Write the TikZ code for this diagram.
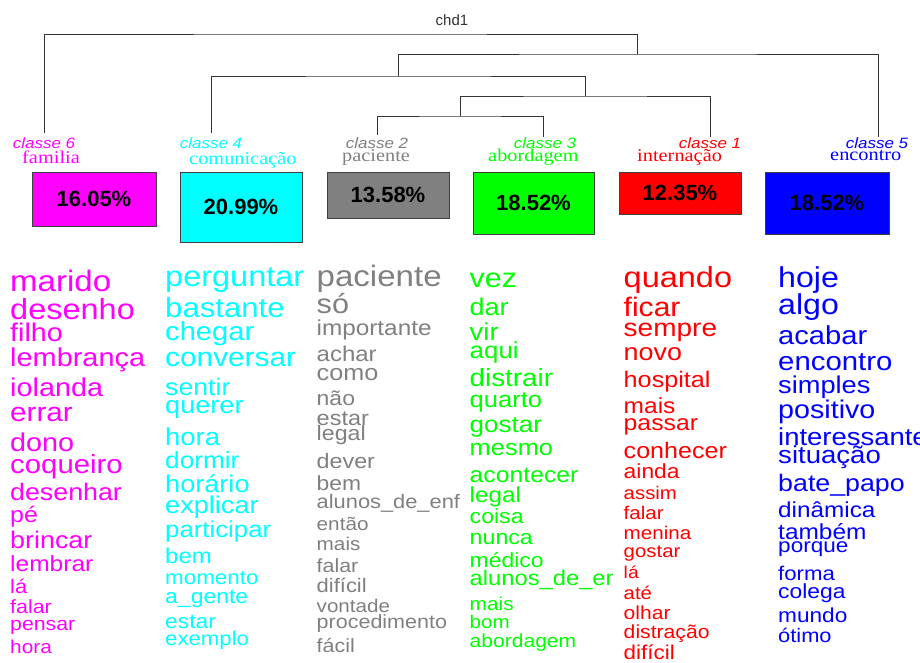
\documentclass[tikz,border=0pt]{standalone}
\usepackage{fontspec}
\setmainfont{Liberation Sans}
\newfontfamily\serifface{Liberation Serif}
\definecolor{clsA}{RGB}{255,0,0}
\definecolor{clsB}{RGB}{128,128,128}
\definecolor{clsC}{RGB}{0,255,0}
\definecolor{clsD}{RGB}{0,255,255}
\definecolor{clsE}{RGB}{0,0,255}
\definecolor{clsF}{RGB}{255,0,255}

\begin{document}
\begin{tikzpicture}[x=1pt,y=-1pt,
	tree/.style={draw=black!80,line width=0.9pt},
	cls/.style={anchor=base,font=\itshape\fontsize{15}{15}\selectfont,xscale=1.13},
	nm/.style={anchor=base west,font=\serifface\fontsize{18}{18}\selectfont,xscale=1.13},
	pct/.style={draw=black!75,line width=0.9pt,font=\bfseries\fontsize{22}{22}\selectfont},
	word/.style={anchor=base west,xscale=1.12}]
			\tikzstyle{every node}+=[inner sep=0pt]
			\useasboundingbox (0,0) rectangle (920,662);
			\node [anchor=base,text=black!80,font=\fontsize{15}{15}\selectfont] (chd) at (452,25) {chd1};
			\coordinate (l6) at (44,133);
			\coordinate (l4) at (211,133);
			\coordinate (l2) at (377,135);
			\coordinate (l3) at (543,137);
			\coordinate (l1) at (710,137);
			\coordinate (l5) at (878,137);
			\coordinate (m23) at (460,116);
			\coordinate (m231) at (585,96);
			\coordinate (m4231) at (398,76);
			\coordinate (m42315) at (637,54);
			\coordinate (top) at (340,34);
			\draw [tree] (l2) |- (m23) -| (l3);
			\draw [tree] (m23) |- (m231) -| (l1);
			\draw [tree] (l4) |- (m4231) -| (m231);
			\draw [tree] (m4231) |- (m42315) -| (l5);
			\draw [tree] (l6) |- (top) -| (m42315);
			\node [cls,text=clsF] (k6) at (44,148) {classe 6};
			\node [cls,text=clsD] (k4) at (211,148) {classe 4};
			\node [cls,text=clsB] (k2) at (377,148) {classe 2};
			\node [cls,text=clsC] (k3) at (545,148) {classe 3};
			\node [cls,text=clsA] (k1) at (710,148) {classe 1};
			\node [cls,text=clsE] (k5) at (877,148) {classe 5};
			\node [nm,text=clsF] (n6) at (22,163) {familia};
			\node [nm,text=clsD] (n4) at (189,164) {comunicação};
			\node [nm,text=clsB] (n2) at (342,161) {paciente};
			\node [nm,text=clsC] (n3) at (488,161) {abordagem};
			\node [nm,text=clsA] (n1) at (637,161) {internação};
			\node [nm,text=clsE] (n5) at (830,160) {encontro};
			\node [pct,fill=clsF,minimum width=124,minimum height=54] (b6) at (94,199) {16.05\%};
			\node [pct,fill=clsD,minimum width=122,minimum height=70] (b4) at (241,207) {20.99\%};
			\node [pct,fill=clsB,minimum width=122,minimum height=46] (b2) at (388,195) {13.58\%};
			\node [pct,fill=clsC,minimum width=121,minimum height=62] (b3) at (533.5,203) {18.52\%};
			\node [pct,fill=clsA,minimum width=122,minimum height=42] (b1) at (680,193) {12.35\%};
			\node [pct,fill=clsE,minimum width=124,minimum height=62] (b5) at (827,203) {18.52\%};
			\foreach \s/\y/\w [count=\i] in {29.5/291/marido,29/319/desenho,25.6/341/filho,25.8/366/lembrança,25.7/396/iolanda,26.5/421/errar,25.7/451/dono,26.2/473/coqueiro,23.9/500/desenhar,22.3/522/pé,24/548/brincar,21.9/571/lembrar,19.6/593/lá,19.1/613/falar,19/630/pensar,18.6/653/hora}
				\node [word,text=clsF,font=\fontsize{\s}{\s}\selectfont] (w6-\i) at (10,\y) {\w};
			\foreach \s/\y/\w [count=\i] in {29/286/perguntar,27.8/317/bastante,26/340/chegar,26.6/366/conversar,23.8/395/sentir,24.2/413/querer,24.5/445/hora,23.4/468/dormir,24.2/492/horário,24.2/513/explicar,23/537/participar,21.4/563/bem,20/584/momento,20.5/603/a\_gente,20.4/628/estar,19.8/645/exemplo}
				\node [word,text=clsD,font=\fontsize{\s}{\s}\selectfont] (w4-\i) at (165,\y) {\w};
			\begin{scope}
				\clip (300,250) rectangle (459.5,662);
				\foreach \s/\y/\w [count=\i] in {29.5/286/paciente,27.3/313/só,21.7/335/importante,21.4/361/achar,22.5/380/como,20.5/405/não,21/425/estar,20.7/440/legal,20.8/468/dever,20.4/490/bem,19.5/508/alunos\_de\_enf,18.5/530/então,18.5/550/mais,19.1/572/falar,19.6/592/difícil,18.4/612/vontade,19.2/628/procedimento,19.2/652/fácil}
					\node [word,text=clsB,font=\fontsize{\s}{\s}\selectfont] (w2-\i) at (316.5,\y) {\w};
			\end{scope}
			\begin{scope}
				\clip (465,250) rectangle (612,662);
				\foreach \s/\y/\w [count=\i] in {27.1/287/vez,24.1/315/dar,24.5/340/vir,23.1/358/aqui,24.8/386/distrair,22.8/407/quarto,23.2/432/gostar,22.7/455/mesmo,22.1/482/acontecer,21.7/502/legal,20.6/523/coisa,20.7/544/nunca,20.5/567/médico,21.2/585/alunos\_de\_en,18.6/610/mais,18.4/628/bom,18.8/647/abordagem}
					\node [word,text=clsC,font=\fontsize{\s}{\s}\selectfont] (w3-\i) at (469.5,\y) {\w};
			\end{scope}
			\foreach \s/\y/\w [count=\i] in {29/287/quando,26.8/316/ficar,25/336/sempre,24/360/novo,22.5/387/hospital,21.9/413/mais,22.1/430/passar,22.4/458/conhecer,20.4/478/ainda,18.2/499/assim,18.4/519/falar,18.4/539/menina,18.2/557/gostar,17.2/578/lá,18.2/599/até,18.8/619/olhar,18.9/638/distração,20/659/difícil}
				\node [word,text=clsA,font=\fontsize{\s}{\s}\selectfont] (w1-\i) at (623.5,\y) {\w};
			\foreach \s/\y/\w [count=\i] in {28.7/287/hoje,28.7/314/algo,26/344/acabar,26.2/370/encontro,24.3/393/simples,25.6/418/positivo,24.5/445/interessante,24.6/463/situação,23.9/491/bate\_papo,21.7/517/dinâmica,21.8/539/também,20.1/552/porque,19.8/580/forma,20.4/598/colega,20.2/622/mundo,19.5/642/ótimo}
				\node [word,text=clsE,font=\fontsize{\s}{\s}\selectfont] (w5-\i) at (778,\y) {\w};
		\end{tikzpicture}
\end{document}
